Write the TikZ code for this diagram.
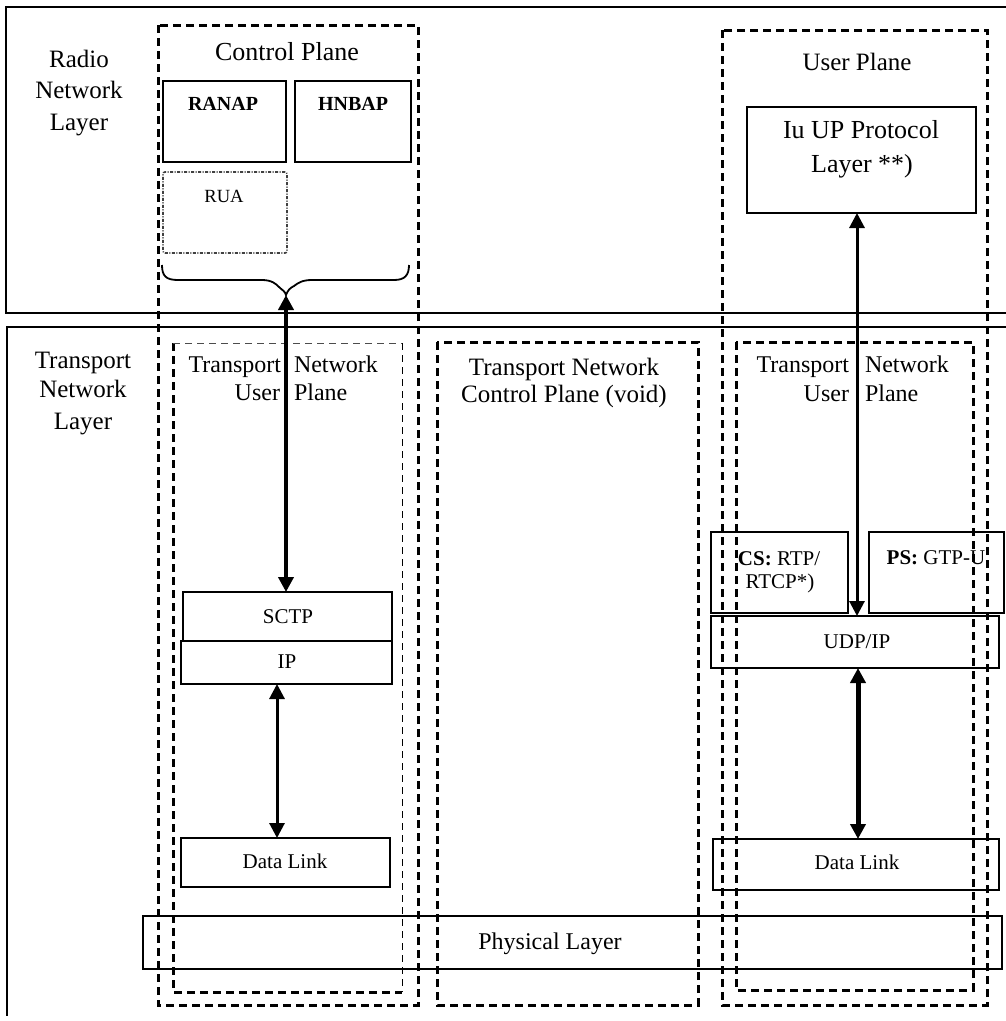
\documentclass[tikz,border=0pt]{standalone}
\usepackage{fontspec}
\setmainfont{Liberation Serif}
\usetikzlibrary{arrows.meta}
\tikzset{
  lay/.style={line width=1.8pt},
  dashbox/.style={line width=3pt, dash pattern=on 8pt off 5pt},
  thindash/.style={line width=1pt, dash pattern=on 7pt off 5pt},
  pbox/.style={draw, line width=2pt, inner sep=0pt, outer sep=0pt},
  thinbox/.style={draw, line width=1.5pt, inner sep=0pt, outer sep=0pt},
  ruabox/.style={draw, line width=1.6pt, rounded corners=2pt, inner sep=0pt, outer sep=0pt,
     dash pattern=on 3pt off 1.5pt on 1pt off 1.5pt, draw=black!75},
  txt/.style={inner sep=0pt, outer sep=0pt, anchor=base},
  f25/.style={font=\fontsize{25}{31}\selectfont},
  f24/.style={font=\fontsize{24}{28}\selectfont},
  f26/.style={font=\fontsize{26}{30}\selectfont},
  f21/.style={font=\fontsize{21}{25}\selectfont},
  f20b/.style={font=\fontsize{20}{24}\selectfont\bfseries},
  f19/.style={font=\fontsize{18.6}{22}\selectfont},
  dbl/.style={{Triangle[length=15pt,width=15pt]}-{Triangle[length=15pt,width=15pt]}},
}
\begin{document}
\begin{tikzpicture}[x=1pt,y=-1pt]
\useasboundingbox (0,0) rectangle (1006,1021);
% layers
\draw[lay] (1006,7) -- (6,7) -- (6,313) -- (1006,313);
\draw[lay] (1006,327) -- (7,327) -- (7,1016);
\node[txt,f25] (rn1) at (79,67) {Radio};
\node[txt,f25] (rn2) at (79,98) {Network};
\node[txt,f25] (rn3) at (79,130) {Layer};
\node[txt,f25] (tn1) at (83,368) {Transport};
\node[txt,f25] (tn2) at (83,397) {Network};
\node[txt,f25] (tn3) at (83,429) {Layer};
% planes
\draw[dashbox] (158,25) rectangle (418,1005);
\draw[dashbox] (722,30) rectangle (987,1005);
\draw[dashbox] (437,342) rectangle (698,1005);
\draw[dashbox] (736,342) rectangle (973,990);
\draw[dashbox] (173,343) -- (173,992) -- (402,992);
\draw[thindash, draw=black!70] (173,343) -- (402,343);
\draw[thindash] (402,343) -- (402,992);
\node[txt,f26] (cp) at (287,60) {Control Plane};
\node[txt,f25] (up) at (857,70) {User Plane};
\node[txt,f25] (tncp1) at (564,375) {Transport Network};
\node[txt,f25] (tncp2) at (564,402) {Control Plane (void)};
% left TNUP label
\node[txt,f24,anchor=base east] (lt1) at (281,372) {Transport};
\node[txt,f24,anchor=base west] (lt2) at (294,372) {Network};
\node[txt,f24,anchor=base east] (lt3) at (280,400) {User};
\node[txt,f24,anchor=base west] (lt4) at (294,400) {Plane};
% right TNUP label
\node[txt,f24,anchor=base east] (rt1) at (849,372) {Transport};
\node[txt,f24,anchor=base west] (rt2) at (865,372) {Network};
\node[txt,f24,anchor=base east] (rt3) at (849,401) {User};
\node[txt,f24,anchor=base west] (rt4) at (865,401) {Plane};
% control plane boxes
\node[pbox, minimum width=123pt, minimum height=81pt] (ranap) at (224.5,121.5) {};
\node[txt,f20b] (ranapT) at (223,110) {RANAP};
\node[pbox, minimum width=116pt, minimum height=81pt] (hnbap) at (353,121.5) {};
\node[txt,f20b] (hnbapT) at (353,110) {HNBAP};
\node[ruabox, minimum width=124pt, minimum height=81pt] (rua) at (225,212.5) {};
\node[txt,f19] (ruaT) at (224,202) {RUA};
% brace
\coordinate (tip) at (286,295);
\draw[line width=1.8pt] (162,265) .. controls (162,276) and (166,280) .. (178,280) -- (262,280)
  .. controls (272,280) and (276,284) .. (279,287) .. controls (282,290) and (285,291) .. (tip)
  .. controls (288,290) and (290,288) .. (294,286) .. controls (298,283) and (302,280) .. (312,280)
  -- (394,280) .. controls (405,280) and (409,275) .. (409,265);
% SCTP / IP / Data Link
\node[pbox, minimum width=209pt, minimum height=49pt] (sctp) at (287.5,616.5) {};
\node[txt,f21] (sctpT) at (288,623) {SCTP};
\node[pbox, minimum width=211pt, minimum height=43pt] (ip) at (286.5,662.5) {};
\node[txt,f21] (ipT) at (287,668) {IP};
\node[pbox, minimum width=209pt, minimum height=49pt] (dl) at (285.5,862.5) {};
\node[txt,f21] (dlT) at (285,868) {Data Link};
% physical
\node[thinbox, minimum width=859pt, minimum height=53pt] (phy) at (572.5,942.5) {};
\node[txt,f24] (phyT) at (550,949) {Physical Layer};
% user plane boxes
\node[pbox, minimum width=229pt, minimum height=106pt] (iuup) at (861.5,160) {};
\node[txt,f26] (iu1) at (861,138) {Iu UP Protocol};
\node[txt,f26] (iu2) at (862,172) {Layer **)};
\node[pbox, minimum width=137pt, minimum height=81pt] (cs) at (779.5,572.5) {};
\node[txt,f21] (cs1) at (779,565) {\textbf{CS:} RTP/};
\node[txt,f21] (cs2) at (780,588) {RTCP*)};
\node[pbox, minimum width=135pt, minimum height=81pt] (ps) at (936.5,572.5) {};
\node[txt,f21] (psT) at (936,564) {\textbf{PS:} GTP-U};
\node[pbox, minimum width=288pt, minimum height=52pt] (udp) at (855,642) {};
\node[txt,f21] (udpT) at (857,648) {UDP/IP};
\node[pbox, minimum width=286pt, minimum height=51pt] (dlr) at (856,864.5) {};
\node[txt,f21] (dlrT) at (857,869) {Data Link};
% arrows
\coordinate (xa) at (277,0);
\coordinate (xb) at (857,0);
\coordinate (xc) at (858,0);
\draw[dbl, line width=4pt] (tip) -- (tip |- sctp.north);
\draw[dbl, line width=3pt] (ip.south -| xa) -- (dl.north -| xa);
\draw[dbl, line width=3pt] (iuup.south -| xb) -- (udp.north -| xb);
\draw[dbl, line width=5pt] (udp.south -| xc) -- (dlr.north -| xc);
\end{tikzpicture}
\end{document}
